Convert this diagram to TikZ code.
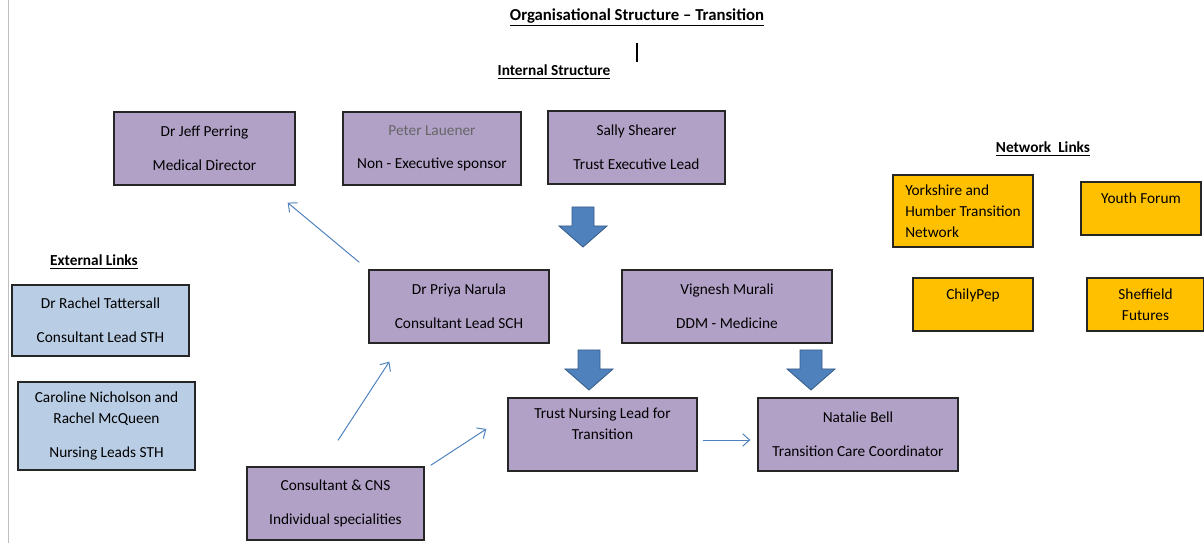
\documentclass[tikz,border=0pt]{standalone}
\usepackage{fontspec}
\setmainfont{Carlito}
\usetikzlibrary{calc, arrows.meta}
\definecolor{lilac}{HTML}{B2A1C7}
\definecolor{paleblue}{HTML}{B9CDE5}
\definecolor{amber}{HTML}{FFC000}
\definecolor{linkblue}{HTML}{4F81BD}
\definecolor{arrowedge}{HTML}{385D8A}
\newcommand{\boxfont}{\fontsize{10.9}{14.9}\selectfont}
\newcommand{\gap}{\\[9pt]}

\begin{document}
\begin{tikzpicture}[x=0.025cm, y=-0.025cm,
    box/.style={draw=black!85, line width=0.9pt, fill=lilac, align=center, font=\boxfont, inner sep=0pt},
    extbox/.style={box, fill=paleblue},
    netbox/.style={box, fill=amber},
    heading/.style={font=\boxfont\bfseries},
    link/.style={draw=linkblue, line width=0.7pt, -{Straight Barb[length=5pt,width=9pt]}},
    blockarrow/.style={fill=linkblue, draw=arrowedge, line width=0.6pt}]
    \useasboundingbox (0,0) rectangle (1204,543);
    \draw[black!25, line width=0.6pt] (8,0) -- (8,543);
    % headings
    \node[font=\fontsize{11.9}{13}\selectfont\bfseries] (title) at (637,17) {\underline{Organisational Structure -- Transition}};
    \draw[line width=0.8pt] (637,43) -- (637,62);
    \node[heading] (internal) at (554,72) {\underline{Internal Structure}};
    \node[heading] (external) at (94,262) {\underline{External Links}};
    \node[heading] (network) at (1043,149) {\underline{Network\ \ Links}};
    % internal structure
    \node[box, minimum width=4.525cm, minimum height=1.825cm] (jeff) at (204.5,148.5) {Dr Jeff Perring\gap Medical Director};
    \node[box, minimum width=4.45cm, minimum height=1.825cm] (peter) at (432,148.5) {\textcolor{black!60}{Peter Lauener}\gap Non - Executive sponsor};
    \node[box, minimum width=4.425cm, minimum height=1.825cm] (sally) at (636.5,147.5) {Sally Shearer\gap Trust Executive Lead};
    \node[box, minimum width=4.5cm, minimum height=1.825cm] (priya) at (459,306.5) {Dr Priya Narula\gap Consultant Lead SCH};
    \node[box, minimum width=5.25cm, minimum height=1.825cm] (vignesh) at (727,306.5) {Vignesh Murali\gap DDM - Medicine};
    \node[box, minimum width=4.725cm, minimum height=1.825cm] (nursing) at (602.5,434.5) {Trust Nursing Lead for\\Transition\\\mbox{}};
    \node[box, minimum width=5cm, minimum height=1.825cm] (natalie) at (858,434.5) {Natalie Bell\gap Transition Care Coordinator};
    \node[box, minimum width=4.425cm, minimum height=1.825cm] (cns) at (335.5,503.5) {Consultant \& CNS\gap Individual specialities};
    % external links
    \node[extbox, minimum width=4.425cm, minimum height=1.775cm] (rachel) at (100.5,320.5) {Dr Rachel Tattersall\gap Consultant Lead STH};
    \node[extbox, minimum width=4.425cm, minimum height=2.2cm] (caroline) at (106.5,426) {Caroline Nicholson and\\Rachel McQueen\gap Nursing Leads STH};
    % network links
    \node[netbox, align=left, minimum width=3.5cm, minimum height=1.8cm] (yorkshire) at (963,211) {Yorkshire and\\Humber Transition\\Network};
    \node[netbox, minimum width=3cm, minimum height=1.325cm] (youth) at (1141,208.5) {Youth Forum\\\mbox{}};
    \node[netbox, minimum width=3cm, minimum height=1.325cm] (chilypep) at (973,304.5) {ChilyPep\\\mbox{}};
    \node[netbox, minimum width=2.925cm, minimum height=1.325cm] (futures) at (1145.5,304.5) {Sheffield\\Futures};
    % block arrows
    \foreach \cx/\ty in {583/207, 589/350, 811/350}
        \filldraw[blockarrow] (\cx-11,\ty) -- (\cx+11,\ty) -- (\cx+11,\ty+19) -- (\cx+24,\ty+19)
            -- (\cx,\ty+40) -- (\cx-24,\ty+19) -- (\cx-11,\ty+19) -- cycle;
    % thin links
    \coordinate (p1) at ([shift={(-9,-7)}]priya.north west);
    \coordinate (j1) at ([shift={(-8,17)}]jeff.south east);
    \coordinate (c1) at ([shift={(2.5,-26)}]cns.north);
    \coordinate (p2) at ([shift={(21,18)}]priya.south west);
    \coordinate (c2) at ([shift={(6,-1)}]cns.north east);
    \coordinate (n1) at ([shift={(-21,-5.5)}]nursing.west);
    \coordinate (n2) at ([shift={(5,5.5)}]nursing.east);
    \coordinate (b1) at ([shift={(-7,5.5)}]natalie.west);
    \draw[link] (p1) -- (j1);
    \draw[link] (c1) -- (p2);
    \draw[link] (c2) -- (n1);
    \draw[link] (n2) -- (b1);
\end{tikzpicture}
\end{document}
